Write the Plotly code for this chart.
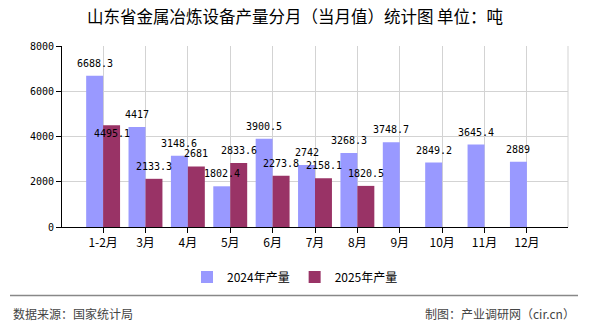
import plotly.graph_objects as go

categories = ["1-2月", "3月", "4月", "5月", "6月", "7月", "8月", "9月", "10月", "11月", "12月"]
values_2024 = [6688.3, 4417, 3148.6, 1802.4, 3900.5, 2742, 3268.3, 3748.7, 2849.2, 3645.4, 2889]
values_2025 = [4495.1, 2133.3, 2681, 2833.6, 2273.8, 2158.1, 1820.5, None, None, None, None]
y_ticks = [0, 2000, 4000, 6000, 8000]

W, H = 590, 330
L, R, T, B = 62, 22, 46, 101
pw = W - L - R
ph = H - T - B

def px_x(p):
    return (p - L) / pw

def px_y(p):
    return (H - B - p) / ph

def fmt(v):
    return "%g" % v

num_family = "DejaVu Sans Mono, Liberation Mono, monospace"
cjk = "Noto Sans CJK SC, Noto Sans, sans-serif"

fig = go.Figure()
fig.add_trace(go.Bar(
    name="2024年产量", x=categories, y=values_2024,
    marker=dict(color="#9999FF", line=dict(width=0)),
))
fig.add_trace(go.Bar(
    name="2025年产量", x=categories, y=values_2025,
    marker=dict(color="#993366", line=dict(width=0)),
))

# value labels placed over bars (on top of all marks), as in the reference
bar_half_px = 8.5
label_lift = 12.5
label_lift_override = {("2025", "1-2月"): -8}
annotations = []
for series, vals, side in (("2024", values_2024, -1), ("2025", values_2025, 1)):
    for cat, v in zip(categories, vals):
        if v is None:
            continue
        annotations.append(dict(
            x=cat, y=v, xref="x", yref="y", text=fmt(v), showarrow=False,
            xanchor="center", yanchor="middle",
            xshift=side * bar_half_px,
            yshift=label_lift_override.get((series, cat), label_lift),
            font=dict(family=num_family, size=10, color="#000"),
        ))

annotations += [
    dict(text="数据来源：国家统计局", xref="paper", yref="paper",
         x=px_x(11), y=px_y(316), xanchor="left", yanchor="middle",
         showarrow=False, font=dict(family=cjk, size=12, color="#444")),
    dict(text="制图：产业调研网（cir.cn）", xref="paper", yref="paper",
         x=px_x(577), y=px_y(316), xanchor="right", yanchor="middle",
         showarrow=False, font=dict(family=cjk, size=12, color="#444")),
]

fig.update_layout(
    width=W, height=H,
    margin=dict(l=L, r=R, t=T, b=B, pad=0),
    paper_bgcolor="white", plot_bgcolor="white",
    barmode="group", bargap=0.2, bargroupgap=0,
    title=dict(
        text="山东省金属冶炼设备产量分月（当月值）统计图 单位：吨",
        x=0.5, xref="container", xanchor="center",
        y=1 - 17 / H, yref="container", yanchor="middle",
        font=dict(family=cjk, size=16.5, color="#000"),
    ),
    showlegend=True,
    legend=dict(
        orientation="h", x=0.5, xanchor="center", xref="container",
        y=1 - 277 / H, yanchor="middle", yref="container",
        font=dict(family=cjk, size=12, color="#000"),
        bgcolor="rgba(0,0,0,0)", traceorder="normal",
    ),
    xaxis=dict(
        type="category", range=[-0.97, 10.97],
        showgrid=True, gridcolor="#d3d3d3", gridwidth=1,
        showline=True, linecolor="#000", linewidth=1,
        ticks="outside", ticklen=5, tickcolor="#000",
        tickfont=dict(family=cjk, size=12, color="#000"),
        zeroline=False, fixedrange=True,
    ),
    yaxis=dict(
        range=[0, 8000], tickvals=y_ticks,
        showgrid=True, gridcolor="#d3d3d3", gridwidth=1,
        showline=True, linecolor="#000", linewidth=1,
        ticks="outside", ticklen=5, tickcolor="#000",
        tickfont=dict(family=num_family, size=10, color="#000"),
        zeroline=False, fixedrange=True,
    ),
    shapes=[
        dict(type="line", xref="paper", yref="paper", x0=1, x1=1, y0=0, y1=1,
             line=dict(color="#d3d3d3", width=1), layer="below"),
        dict(type="line", xref="paper", yref="paper", x0=px_x(10), x1=px_x(578),
             y0=px_y(298), y1=px_y(298), line=dict(color="#888888", width=1.5)),
    ],
    annotations=annotations,
)

fig.write_html("out.html")
